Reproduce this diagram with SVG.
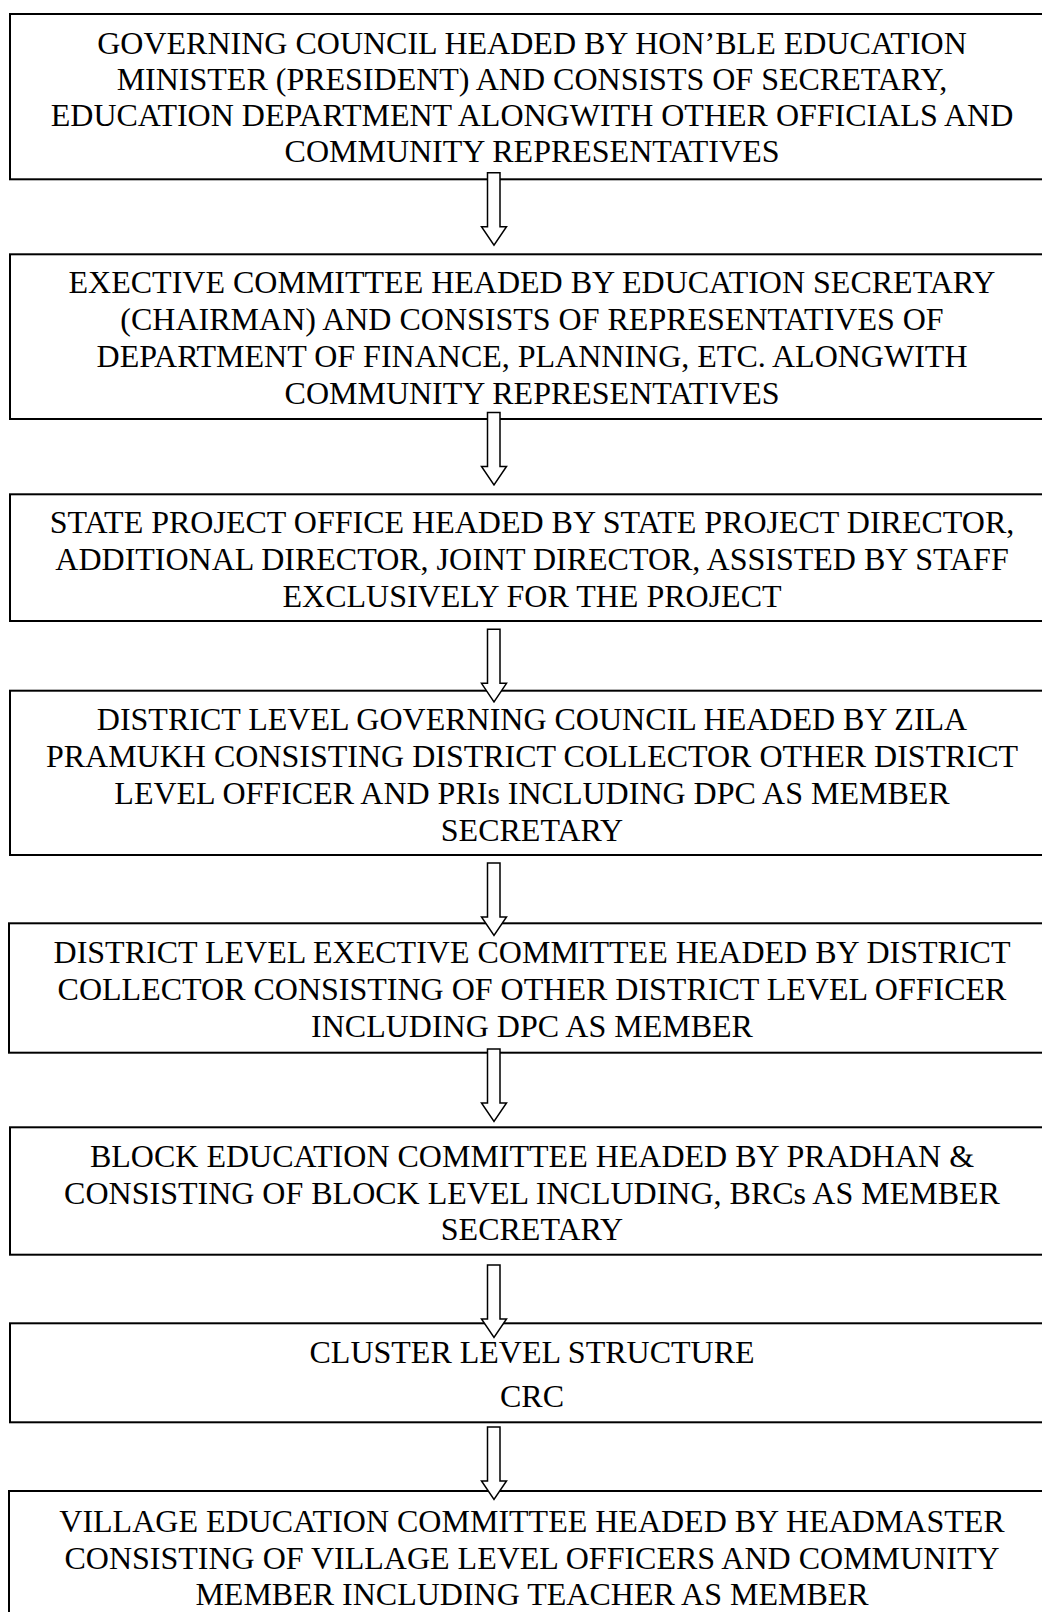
<svg xmlns="http://www.w3.org/2000/svg" xmlns:xlink="http://www.w3.org/1999/xlink" width="1042" height="1612" viewBox="0 0 1042 1612">
<style>
.box{fill:#fff;stroke:#000;stroke-width:2}
.t{font-family:"Liberation Serif","Times New Roman",serif;font-size:32px;fill:#000;text-anchor:middle}
.arr{fill:#fff;stroke:#000;stroke-width:1.5;stroke-linejoin:miter}
</style>
<defs>
<path id="a" class="arr" d="M487.5,0 H500 V54 H506.5 L494,72.5 L481.5,54 H487.5 Z"/>
</defs>
<rect width="1042" height="1612" fill="#fff"/>
<g id="n1"><rect class="box" x="10" y="14" width="1046" height="165.3"/>
<text class="t" x="532" y="53.5">GOVERNING COUNCIL HEADED BY HON’BLE EDUCATION</text>
<text class="t" x="532" y="89.5">MINISTER (PRESIDENT) AND CONSISTS OF SECRETARY,</text>
<text class="t" x="532" y="125.5">EDUCATION DEPARTMENT ALONGWITH OTHER OFFICIALS AND</text>
<text class="t" x="532" y="161.5">COMMUNITY REPRESENTATIVES</text></g>
<g id="n2"><rect class="box" x="10" y="254.3" width="1046" height="164.7"/>
<text class="t" x="532" y="293">EXECTIVE COMMITTEE HEADED BY EDUCATION SECRETARY</text>
<text class="t" x="532" y="330">(CHAIRMAN) AND CONSISTS OF REPRESENTATIVES OF</text>
<text class="t" x="532" y="367">DEPARTMENT OF FINANCE, PLANNING, ETC. ALONGWITH</text>
<text class="t" x="532" y="404">COMMUNITY REPRESENTATIVES</text></g>
<g id="n3"><rect class="box" x="10" y="494.3" width="1046" height="126.7"/>
<text class="t" x="532" y="533">STATE PROJECT OFFICE HEADED BY STATE PROJECT DIRECTOR,</text>
<text class="t" x="532" y="570">ADDITIONAL DIRECTOR, JOINT DIRECTOR, ASSISTED BY STAFF</text>
<text class="t" x="532" y="607">EXCLUSIVELY FOR THE PROJECT</text></g>
<g id="n4"><rect class="box" x="10" y="690.7" width="1046" height="164.3"/>
<text class="t" x="532" y="730">DISTRICT LEVEL GOVERNING COUNCIL HEADED BY ZILA</text>
<text class="t" x="532" y="767">PRAMUKH CONSISTING DISTRICT COLLECTOR OTHER DISTRICT</text>
<text class="t" x="532" y="804">LEVEL OFFICER AND PRIs INCLUDING DPC AS MEMBER</text>
<text class="t" x="532" y="841">SECRETARY</text></g>
<g id="n5"><rect class="box" x="9" y="923.3" width="1047" height="129.4"/>
<text class="t" x="532" y="963">DISTRICT LEVEL EXECTIVE COMMITTEE HEADED BY DISTRICT</text>
<text class="t" x="532" y="1000">COLLECTOR CONSISTING OF OTHER DISTRICT LEVEL OFFICER</text>
<text class="t" x="532" y="1037">INCLUDING DPC AS MEMBER</text></g>
<g id="n6"><rect class="box" x="10" y="1127.3" width="1046" height="127.4"/>
<text class="t" x="532" y="1167">BLOCK EDUCATION COMMITTEE HEADED BY PRADHAN &amp;</text>
<text class="t" x="532" y="1203.5">CONSISTING OF BLOCK LEVEL INCLUDING, BRCs AS MEMBER</text>
<text class="t" x="532" y="1240">SECRETARY</text></g>
<g id="n7"><rect class="box" x="10" y="1323.3" width="1046" height="99"/>
<text class="t" x="532" y="1363">CLUSTER LEVEL STRUCTURE</text>
<text class="t" x="532" y="1407">CRC</text></g>
<g id="n8"><rect class="box" x="9" y="1491" width="1047" height="140"/>
<text class="t" x="532" y="1532">VILLAGE EDUCATION COMMITTEE HEADED BY HEADMASTER</text>
<text class="t" x="532" y="1568.5">CONSISTING OF VILLAGE LEVEL OFFICERS AND COMMUNITY</text>
<text class="t" x="532" y="1605">MEMBER INCLUDING TEACHER AS MEMBER</text></g>
<g id="connectors">
<use xlink:href="#a" href="#a" transform="translate(0,172.7)"/>
<use xlink:href="#a" href="#a" transform="translate(0,412.5)"/>
<use xlink:href="#a" href="#a" transform="translate(0,629.3)"/>
<use xlink:href="#a" href="#a" transform="translate(0,863)"/>
<use xlink:href="#a" href="#a" transform="translate(0,1049)"/>
<use xlink:href="#a" href="#a" transform="translate(0,1265)"/>
<use xlink:href="#a" href="#a" transform="translate(0,1427)"/>
</g>
</svg>
